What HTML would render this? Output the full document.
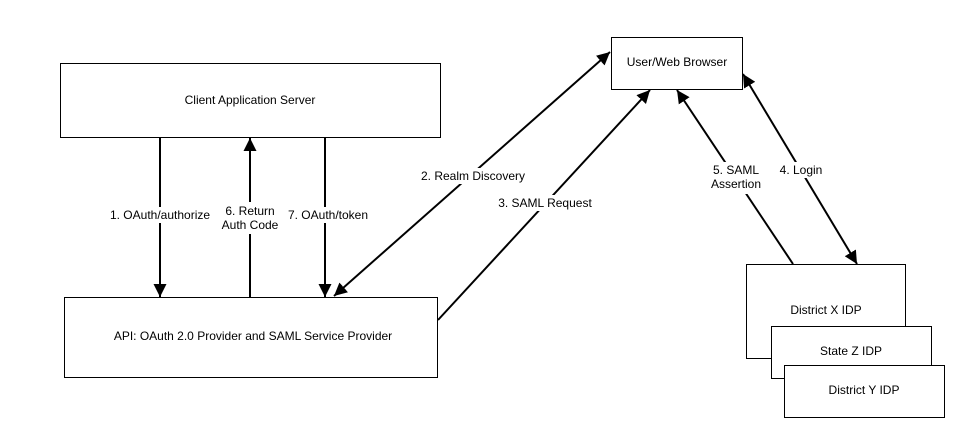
<!DOCTYPE html>
<html><head><style>
body{margin:0;background:#fff;}
svg{display:block;font-family:"Liberation Sans",Arial,sans-serif;font-size:12px;}
</style></head><body>
<svg width="964" height="437" viewBox="0 0 964 437">
<defs>
<marker id="a" markerWidth="10" markerHeight="10" refX="9" refY="5" orient="auto-start-reverse" markerUnits="userSpaceOnUse">
<path d="M0,0 L10,5 L0,10 z" fill="#000"/>
</marker>
<marker id="b" viewBox="0 0 12 12" markerWidth="13" markerHeight="13" refX="12" refY="6" orient="auto-start-reverse" markerUnits="userSpaceOnUse">
<path d="M0,0 L12,6 L0,12 z" fill="#000"/>
</marker>
</defs>
<g fill="#fff" stroke="#000" stroke-width="1">
<rect x="60.5" y="63.5" width="380" height="74"/>
<rect x="64.5" y="297.5" width="373" height="80"/>
<rect x="611.5" y="37.5" width="131" height="52"/>
<rect x="746.5" y="264.5" width="159" height="94"/>
<rect x="771.5" y="326.5" width="160" height="52"/>
<rect x="784.5" y="365.5" width="160" height="52"/>
</g>
<g stroke="#000" stroke-width="2" fill="none">
<line x1="160" y1="138" x2="160" y2="297" marker-end="url(#b)"/>
<line x1="250" y1="297" x2="250" y2="138" marker-end="url(#b)"/>
<line x1="325" y1="138" x2="325" y2="297" marker-end="url(#b)"/>
<line x1="334" y1="296" x2="610" y2="52" marker-start="url(#b)" marker-end="url(#b)"/>
<line x1="438" y1="320" x2="650" y2="90" marker-end="url(#b)"/>
<line x1="793" y1="264" x2="677" y2="90" marker-end="url(#b)"/>
<line x1="743" y1="74" x2="857" y2="264" marker-start="url(#b)" marker-end="url(#b)"/>
</g>
<g fill="#fff">
<rect x="108" y="207" width="105" height="16"/>
<rect x="218" y="202" width="62" height="32"/>
<rect x="285" y="207" width="87" height="16"/>
<rect x="418" y="168" width="110" height="16"/>
<rect x="495" y="195" width="100" height="16"/>
<rect x="708" y="162" width="56" height="32"/>
<rect x="776" y="162" width="50" height="16"/>
</g>
<g fill="#000" text-anchor="middle">
<text x="250" y="104">Client Application Server</text>
<text x="253" y="340">API: OAuth 2.0 Provider and SAML Service Provider</text>
<text x="677" y="66">User/Web Browser</text>
<text x="826" y="314">District X IDP</text>
<text x="851" y="355">State Z IDP</text>
<text x="864" y="394">District Y IDP</text>
<text x="160" y="219">1. OAuth/authorize</text>
<text x="250" y="215">6. Return</text>
<text x="250" y="229">Auth Code</text>
<text x="328" y="219">7. OAuth/token</text>
<text x="473" y="180">2. Realm Discovery</text>
<text x="545" y="207">3. SAML Request</text>
<text x="736" y="174">5. SAML</text>
<text x="736" y="188">Assertion</text>
<text x="801" y="174">4. Login</text>
</g>
</svg>
</body></html>
